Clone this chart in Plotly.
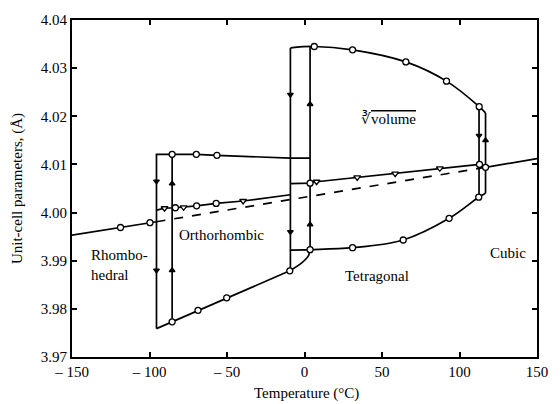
import plotly.graph_objects as go

# ---------------- data (temperature in °C, lattice parameter in Å) ----------------
# single straight line: rhombohedral (solid), extrapolation (dashed), cubic (solid)
rh_T = [-150, -118.7, -99.7, -95.5]
rh_a = [3.9953, 3.9969, 3.9979, 3.9981]
rh_pts_T = [-118.7, -99.7]
rh_pts_a = [3.9969, 3.9979]

ext_T = [-95.5, 116.8]
ext_a = [3.9981, 4.0094]

cub_T = [116.8, 150]
cub_a = [4.0094, 4.0112]
cub_pts_T = [116.8]
cub_pts_a = [4.0094]

# orthorhombic branches
ou_T = [-96.0, -85.4, -69.8, -56.5, -9.1, 3.6]
ou_a = [4.0121, 4.0121, 4.0121, 4.0119, 4.0113, 4.0113]
ou_pts_T = [-85.4, -69.8, -56.5]
ou_pts_a = [4.0121, 4.0121, 4.0119]

om_T = [-95.5, -90.3, -83.3, -78.0, -69.6, -57.0, -39.6, -9.1]
om_a = [4.0005, 4.0009, 4.0010, 4.0011, 4.0014, 4.0019, 4.0024, 4.0037]
om_circ_T = [-83.3, -69.6, -57.0]
om_circ_a = [4.0010, 4.0014, 4.0019]
om_tri_T = [-90.3, -78.0, -39.6]
om_tri_a = [4.0009, 4.0011, 4.0024]

ol_T = [-95.5, -85.4, -68.7, -50.2, -9.5]
ol_a = [3.9759, 3.9773, 3.9797, 3.9823, 3.9879]
ol_pts_T = [-85.4, -68.7, -50.2, -9.5]
ol_pts_a = [3.9773, 3.9797, 3.9823, 3.9879]
# heating path from orthorhombic lower branch into tetragonal a
oh_T = [-9.5, -2.0, 2.5, 3.6]
oh_a = [3.9879, 3.9895, 3.9910, 3.9923]

# tetragonal branches
tc_T = [-9.1, 6.3, 31.0, 65.4, 91.6, 112.7, 116.8]
tc_a = [4.0342, 4.0345, 4.0338, 4.0313, 4.0273, 4.0220, 4.0207]
tc_pts_T = [6.3, 31.0, 65.4, 91.6, 112.7]
tc_pts_a = [4.0345, 4.0338, 4.0313, 4.0273, 4.0220]

ta_T = [-9.1, 3.6, 31.0, 63.7, 93.3, 112.4, 116.8]
ta_a = [3.9922, 3.9923, 3.9927, 3.9943, 3.9988, 4.0032, 4.0040]
ta_pts_T = [3.6, 31.0, 63.7, 93.3, 112.4]
ta_pts_a = [3.9923, 3.9927, 3.9943, 3.9988, 4.0032]

tv_T = [-9.1, 3.6, 7.8, 34.0, 58.5, 87.3, 112.9]
tv_a = [4.0060, 4.0061, 4.0064, 4.0073, 4.0081, 4.0092, 4.0100]
tv_circ_T = [3.6, 112.9]
tv_circ_a = [4.0061, 4.0100]
tv_tri_T = [7.8, 34.0, 58.5, 87.3]
tv_tri_a = [4.0064, 4.0073, 4.0081, 4.0092]

# transition verticals: temperature, low, high
vert_T = [-95.5, -85.4, -9.1, 3.6, 112.6, 116.8]
vert_lo = [3.9759, 3.9773, 3.9879, 3.9923, 4.0032, 4.0040]
vert_hi = [4.0121, 4.0121, 4.0342, 4.0345, 4.0220, 4.0207]

# direction arrows on verticals
arr_down_T = [-95.5, -95.5, -9.1, -9.1, 112.6]
arr_down_a = [4.0065, 3.9880, 4.0245, 3.9960, 4.0160]
arr_up_T = [-85.4, -85.4, 3.6, 3.6, 116.8]
arr_up_a = [4.0060, 3.9880, 4.0225, 3.9975, 4.0150]

x_ticks = [-150, -100, -50, 0, 50, 100, 150]
x_ticktext = ["\u2013 150", "\u2013 100", "\u2013 50", "0", "50", "100", "150"]
y_ticks = [3.97, 3.98, 3.99, 4.00, 4.01, 4.02, 4.03, 4.04]
y_ticktext = ["3.97", "3.98", "3.99", "4.00", "4.01", "4.02", "4.03", "4.04"]

FONT = "Liberation Serif"
LW = 1.7

fig = go.Figure()


def line(x, y, dash="solid", shape="linear"):
    fig.add_trace(go.Scatter(x=x, y=y, mode="lines",
                             line=dict(color="black", width=LW, dash=dash, shape=shape),
                             hoverinfo="skip", showlegend=False))


def pts(x, y, symbol="circle-open", size=6):
    fig.add_trace(go.Scatter(x=x, y=y, mode="markers",
                             marker=dict(symbol=symbol, size=size, color="black",
                                         line=dict(width=1.3, color="black")),
                             hoverinfo="skip", showlegend=False))


line(rh_T, rh_a)
line(ext_T, ext_a, dash="dash")
line(cub_T, cub_a)
line(ou_T, ou_a)
line(om_T, om_a)
line(ol_T, ol_a)
line(oh_T, oh_a, shape="spline")
line(tc_T, tc_a, shape="spline")
line(ta_T, ta_a, shape="spline")
line(tv_T, tv_a)
for t, lo, hi in zip(vert_T, vert_lo, vert_hi):
    line([t, t], [lo, hi])

# white-filled markers so the lines do not show through
for xs, ys, sym in [(rh_pts_T, rh_pts_a, "circle"), (cub_pts_T, cub_pts_a, "circle"),
                    (ou_pts_T, ou_pts_a, "circle"), (om_circ_T, om_circ_a, "circle"),
                    (om_tri_T, om_tri_a, "triangle-down"), (ol_pts_T, ol_pts_a, "circle"),
                    (tc_pts_T, tc_pts_a, "circle"), (ta_pts_T, ta_pts_a, "circle"),
                    (tv_circ_T, tv_circ_a, "circle"), (tv_tri_T, tv_tri_a, "triangle-down")]:
    fig.add_trace(go.Scatter(x=xs, y=ys, mode="markers",
                             marker=dict(symbol=sym, size=6, color="white",
                                         line=dict(width=1.3, color="black")),
                             hoverinfo="skip", showlegend=False))

pts(arr_down_T, arr_down_a, symbol="triangle-down", size=5)
pts(arr_up_T, arr_up_a, symbol="triangle-up", size=5)

tf = dict(family=FONT, size=15, color="black")
fig.add_annotation(x=-139, y=3.9891, text="Rhombo-<br>hedral", showarrow=False,
                   xanchor="left", align="left", font=tf)
fig.add_annotation(x=-53.4, y=3.9953, text="Orthorhombic", showarrow=False, font=tf)
fig.add_annotation(x=46.6, y=3.9868, text="Tetragonal", showarrow=False, font=tf)
fig.add_annotation(x=131.4, y=3.9916, text="Cubic", showarrow=False, font=tf)
fig.add_annotation(x=54.3, y=4.0195,
                   text="\u221b<span style='text-decoration:overline'>volume</span>",
                   showarrow=False, font=tf)

fig.add_annotation(xref="paper", yref="paper", x=0.505, y=-0.108,
                   xanchor="center", yanchor="middle",
                   text="Temperature (\u00b0C)", showarrow=False, font=tf)
fig.add_annotation(xref="paper", yref="paper", x=-0.117, y=0.5, textangle=-90,
                   xanchor="center", yanchor="middle",
                   text="Unit-cell parameters, (\u00c5)", showarrow=False, font=tf)

axis_common = dict(showline=True, linecolor="black", linewidth=2, mirror="ticks",
                   ticks="inside", ticklen=5, tickwidth=1.5, tickcolor="black",
                   showgrid=False, zeroline=False,
                   tickfont=dict(family=FONT, size=15, color="black"))

fig.update_layout(
    width=560, height=404,
    margin=dict(l=72, r=14, t=20, b=47),
    paper_bgcolor="white", plot_bgcolor="white",
    xaxis=dict(range=[-150, 150], tickvals=x_ticks, ticktext=x_ticktext, **axis_common),
    yaxis=dict(range=[3.97, 4.04], tickvals=y_ticks, ticktext=y_ticktext, **axis_common),
)

fig.write_html("out.html",
               config={"displayModeBar": False},
               post_script="document.body.style.margin='0';document.body.style.overflow='hidden';")
